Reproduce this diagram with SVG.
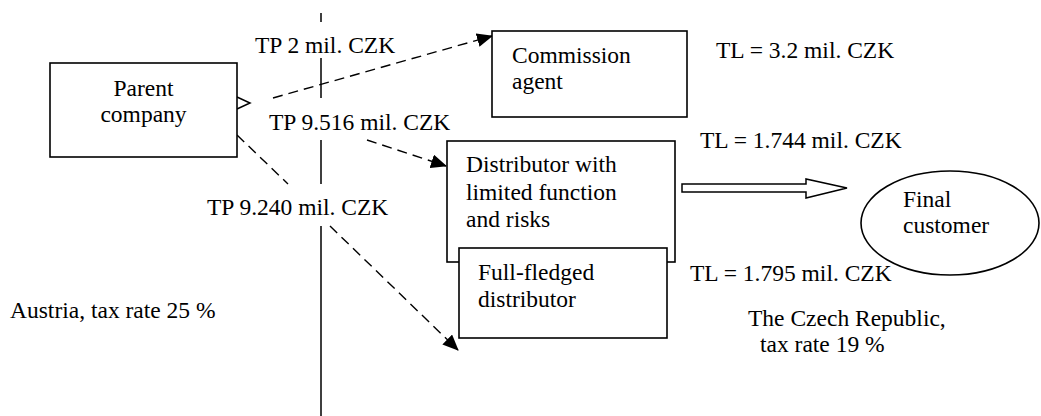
<svg xmlns="http://www.w3.org/2000/svg" width="1041" height="416" viewBox="0 0 1041 416">
<style>
text{font-family:"Liberation Serif","Times New Roman",serif;font-size:23.5px;fill:#000}
.box{fill:#fff;stroke:#000;stroke-width:1.6}
.dash{fill:none;stroke:#000;stroke-width:1.4;stroke-dasharray:10,6}
.solid{fill:none;stroke:#000;stroke-width:1.5}
</style>
<defs>
<marker id="ah" markerWidth="16" markerHeight="14" refX="15" refY="7" orient="auto" markerUnits="userSpaceOnUse">
<path d="M0,0 L16,7 L0,14 Z" fill="#000"/>
</marker>
</defs>
<rect width="1041" height="416" fill="#fff"/>
<g id="border-line">
<path class="solid" d="M321,13 V22 M321,58 V98 M321,140 V184 M321,226 V416"/>
</g>
<g id="connectors">
<path class="dash" d="M273,98 L492,36" marker-end="url(#ah)"/>
<path class="dash" d="M367,140 L446,166" marker-end="url(#ah)"/>
<path class="dash" d="M237,135 L288,184"/>
<path class="dash" d="M330,226 L458,350" marker-end="url(#ah)"/>
<path class="solid" d="M237,97 L250,103 L237,109"/>
<path fill="#fff" stroke="#000" stroke-width="1.5" d="M682,184 H806 V179 L847,188 L806,198 V192 H682 Z"/>
</g>
<g id="parent">
<rect class="box" x="50" y="63" width="187" height="94"/>
<text x="143.5" y="96" text-anchor="middle">Parent</text>
<text x="143.5" y="122" text-anchor="middle">company</text>
</g>
<g id="commission">
<rect class="box" x="492" y="31" width="195" height="86"/>
<text x="512" y="63">Commission</text>
<text x="512" y="89">agent</text>
</g>
<g id="distributor-limited">
<rect class="box" x="447" y="141" width="228" height="121"/>
<text x="466" y="172">Distributor with</text>
<text x="466" y="200">limited function</text>
<text x="466" y="227">and risks</text>
</g>
<g id="full-fledged">
<rect class="box" x="459" y="248" width="208" height="90"/>
<text x="478" y="280">Full-fledged</text>
<text x="478" y="307">distributor</text>
</g>
<g id="customer">
<ellipse class="box" cx="950" cy="223" rx="89" ry="52"/>
<text x="903" y="207">Final</text>
<text x="903" y="233">customer</text>
</g>
<g id="labels">
<text x="255" y="53">TP 2 mil. CZK</text>
<text x="269" y="130">TP 9.516 mil. CZK</text>
<text x="207" y="215">TP 9.240 mil. CZK</text>
<text x="716" y="58">TL = 3.2 mil. CZK</text>
<text x="700" y="148">TL = 1.744 mil. CZK</text>
<text x="690" y="281">TL = 1.795 mil. CZK</text>
<text x="10" y="318">Austria, tax rate 25 %</text>
<text x="748" y="326">The Czech Republic,</text>
<text x="760" y="352">tax rate 19 %</text>
</g>
</svg>
